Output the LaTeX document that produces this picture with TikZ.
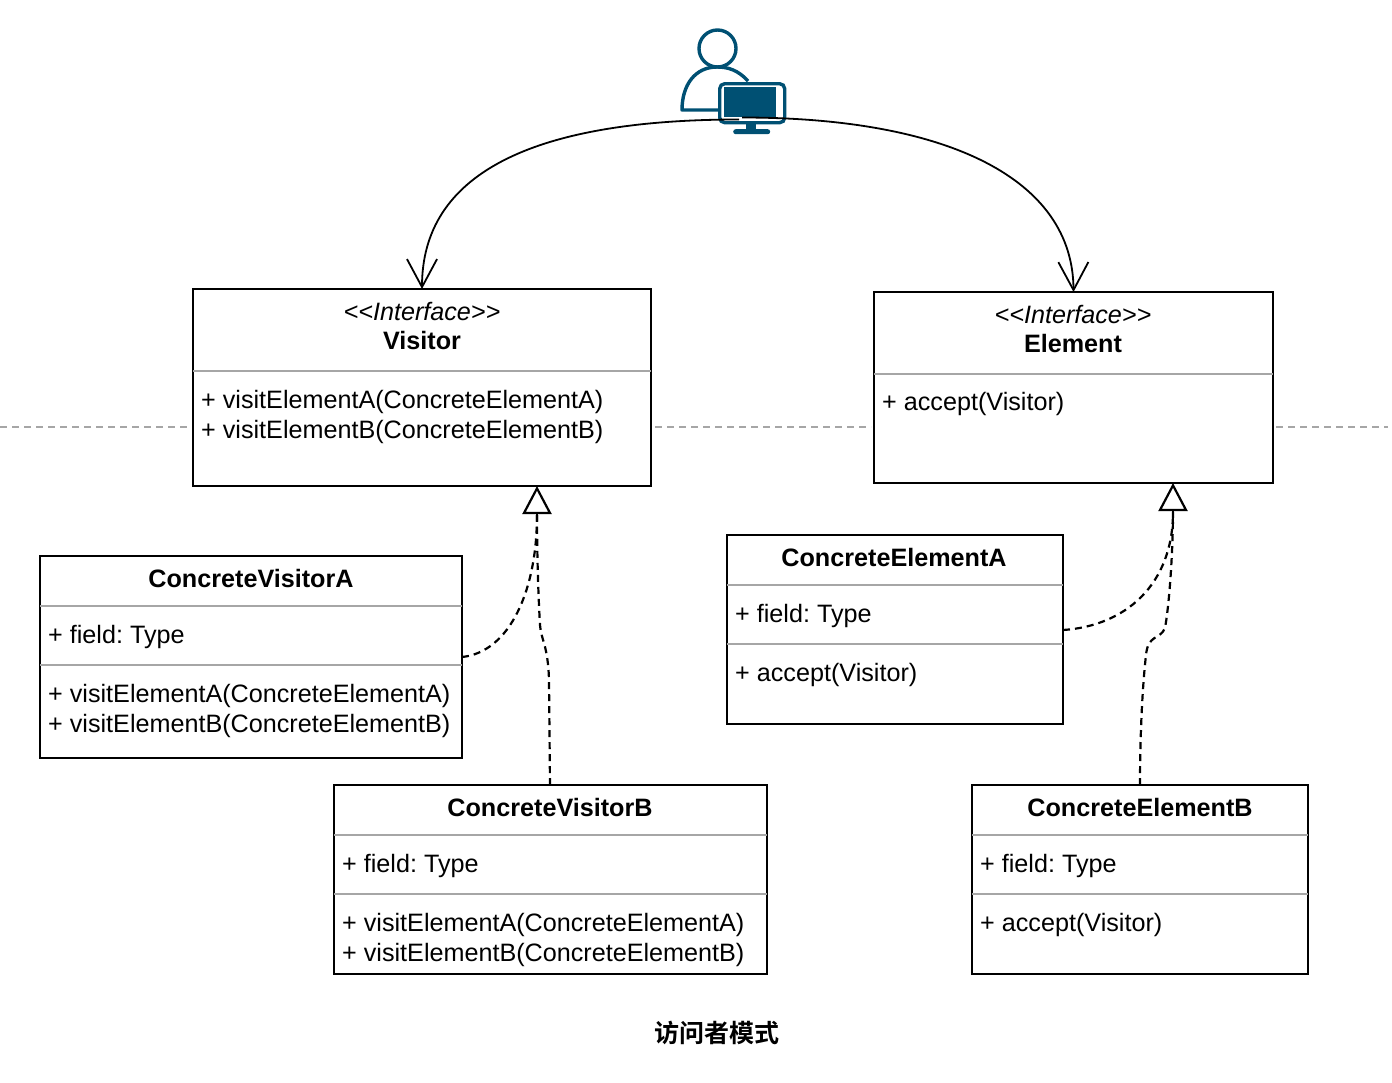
\documentclass[tikz,border=0pt]{standalone}
\usepackage{fontspec}
\setmainfont{Liberation Sans}
\newfontfamily\cjk{Noto Sans CJK SC}[BoldFont={Noto Sans CJK SC Bold}]
\usetikzlibrary{arrows.meta,calc}
\definecolor{iconblue}{HTML}{005073}
\frenchspacing
\tikzset{
  umlbox/.style={draw=black,line width=2.2pt,fill=white,minimum width=#1,inner sep=0pt,anchor=north west,outer sep=0pt},
  divider/.style={draw=black!35,line width=2.2pt},
  txt/.style={anchor=base west,inner sep=0pt,font=\fontsize{25.17}{30}\selectfont},
  head/.style={anchor=base,inner sep=0pt,font=\fontsize{25.17}{30}\selectfont\bfseries},
  stereo/.style={anchor=base,inner sep=0pt,font=\fontsize{25.17}{30}\selectfont\itshape},
  realize/.style={draw=black,line width=2.2pt,dash pattern=on 7pt off 5pt},
  realizetip/.style={draw=black,line width=2.2pt,-{Triangle[open,length=28pt,width=29pt,fill=white]}},
  assoc/.style={draw=black,line width=1.8pt,-{Straight Barb[length=28pt,width=30pt,line width=1.8pt]}},
  axis/.style={draw=black!35,line width=1.4pt,dash pattern=on 7pt off 5pt},
  iconline/.style={draw=iconblue,line width=3.4pt},
}
\begin{document}
\begin{tikzpicture}[x=1pt,y=-1pt]
\useasboundingbox (0,0) rectangle (1392,1082);
% separator line
\coordinate (a0) at (0,427);\coordinate (a1) at (188,427);
\coordinate (a2) at (655,427);\coordinate (a3) at (871,427);
\coordinate (a4) at (1276,427);\coordinate (a5) at (1388,427);
\draw[axis] (a0) -- (a1);\draw[axis] (a2) -- (a3);\draw[axis] (a4) -- (a5);
% boxes
\node[umlbox=458pt,minimum height=197pt] (visitor) at (193,289) {};
\node[umlbox=399pt,minimum height=191pt] (element) at (874,292) {};
\node[umlbox=422pt,minimum height=202pt] (cva) at (40,556) {};
\node[umlbox=433pt,minimum height=189pt] (cvb) at (334,785) {};
\node[umlbox=336pt,minimum height=189pt] (cea) at (727,535) {};
\node[umlbox=336pt,minimum height=189pt] (ceb) at (972,785) {};
% dividers
\draw[divider] ([yshift=-82pt]visitor.north west) -- ([yshift=-82pt]visitor.north east);
\draw[divider] ([yshift=-82pt]element.north west) -- ([yshift=-82pt]element.north east);
\draw[divider] ([yshift=-50pt]cva.north west) -- ([yshift=-50pt]cva.north east);
\draw[divider] ([yshift=-109pt]cva.north west) -- ([yshift=-109pt]cva.north east);
\draw[divider] ([yshift=-50pt]cvb.north west) -- ([yshift=-50pt]cvb.north east);
\draw[divider] ([yshift=-109pt]cvb.north west) -- ([yshift=-109pt]cvb.north east);
\draw[divider] ([yshift=-50pt]cea.north west) -- ([yshift=-50pt]cea.north east);
\draw[divider] ([yshift=-109pt]cea.north west) -- ([yshift=-109pt]cea.north east);
\draw[divider] ([yshift=-50pt]ceb.north west) -- ([yshift=-50pt]ceb.north east);
\draw[divider] ([yshift=-109pt]ceb.north west) -- ([yshift=-109pt]ceb.north east);
% texts
\node[stereo] (t1) at (422,320) {<{}<Interface>{}>};
\node[head] (t2) at (422,349) {Visitor};
\node[txt] (t3) at (201,408) {+ visitElementA(ConcreteElementA)};
\node[txt] (t4) at (201,438) {+ visitElementB(ConcreteElementB)};
\node[stereo] (t5) at (1073,323) {<{}<Interface>{}>};
\node[head] (t6) at (1073,352) {Element};
\node[txt] (t7) at (882,410) {+ accept(Visitor)};
\node[head] (t8) at (251,587) {ConcreteVisitorA};
\node[txt] (t9) at (48,643) {+ field: Type};
\node[txt] (t10) at (48,702) {+ visitElementA(ConcreteElementA)};
\node[txt] (t11) at (48,732) {+ visitElementB(ConcreteElementB)};
\node[head] (t12) at (550,816) {ConcreteVisitorB};
\node[txt] (t13) at (342,872) {+ field: Type};
\node[txt] (t14) at (342,931) {+ visitElementA(ConcreteElementA)};
\node[txt] (t15) at (342,961) {+ visitElementB(ConcreteElementB)};
\node[head] (t16) at (894,566) {ConcreteElementA};
\node[txt] (t17) at (735,622) {+ field: Type};
\node[txt] (t18) at (735,681) {+ accept(Visitor)};
\node[head] (t19) at (1140,816) {ConcreteElementB};
\node[txt] (t20) at (980,872) {+ field: Type};
\node[txt] (t21) at (980,931) {+ accept(Visitor)};
\node[anchor=center,inner sep=0pt,font=\cjk\bfseries\fontsize{25}{30}\selectfont] (title) at (717,1033) {访问者模式};
% named attachment points
\coordinate (vtip) at ($(visitor.south west)+(344,0)$);
\coordinate (vbase) at ($(vtip)+(0,29)$);
\coordinate (etip) at ($(element.south west)+(299,0)$);
\coordinate (ebase) at ($(etip)+(0,29)$);
\coordinate (cvaout) at (cva.east |- 0,657);
\coordinate (cvbout) at ($(cvb.north west)+(216,0)$);
\coordinate (ceaout) at (cea.east |- 0,630);
\coordinate (cebout) at ($(ceb.north west)+(168,0)$);
% dashed realisations
\draw[realize] (cvaout) .. controls (510,652) and (537,590) .. (vbase);
\draw[realize] (cvbout) -- (549,680) .. controls (548,645) and (541,640) .. (540,625) .. controls (538,590) and (537,550) .. (vbase);
\draw[realize] (ceaout) .. controls (1125,626) and (1173,585) .. (ebase);
\draw[realize] (cebout) .. controls (1140,740) and (1142,690) .. (1146,655) .. controls (1148,634) and (1160,640) .. (1165,628) .. controls (1170,600) and (1173,545) .. (ebase);
\draw[realizetip] (vbase) -- (vtip);
\draw[realizetip] (ebase) -- (etip);
% actor icon
\node[draw=iconblue,line width=3.4pt,circle,minimum size=37pt,inner sep=0pt] (head) at (717.5,48.5) {};
\draw[iconline,line join=round] (748,81) .. controls (738,70) and (728,67) .. (717,67) .. controls (695,67) and (682,85) .. (682,110) -- (718,110);
\node[draw=iconblue,fill=white,line width=3.4pt,rounded corners=5pt,minimum width=65pt,minimum height=39pt,inner sep=0pt,anchor=north west] (monitor) at (718,82) {};
\node[fill=iconblue,minimum width=52pt,minimum height=30pt,inner sep=0pt,anchor=north west] (screen) at (724,87) {};
\node[fill=iconblue,minimum width=10pt,minimum height=8pt,inner sep=0pt,anchor=north west] (stand) at (746,122) {};
\node[fill=iconblue,rounded corners=2.5pt,minimum width=37pt,minimum height=5pt,inner sep=0pt,anchor=north west] (foot) at (733,129) {};
% association curves
\coordinate (cl) at (739,119.5);
\coordinate (cr) at (742,117.5);
\draw[assoc] (cl) .. controls (530,119.5) and (422,175) .. (visitor.north);
\draw[assoc] (cr) .. controls (950,117.5) and (1073,180) .. (element.north);
\end{tikzpicture}
\end{document}
